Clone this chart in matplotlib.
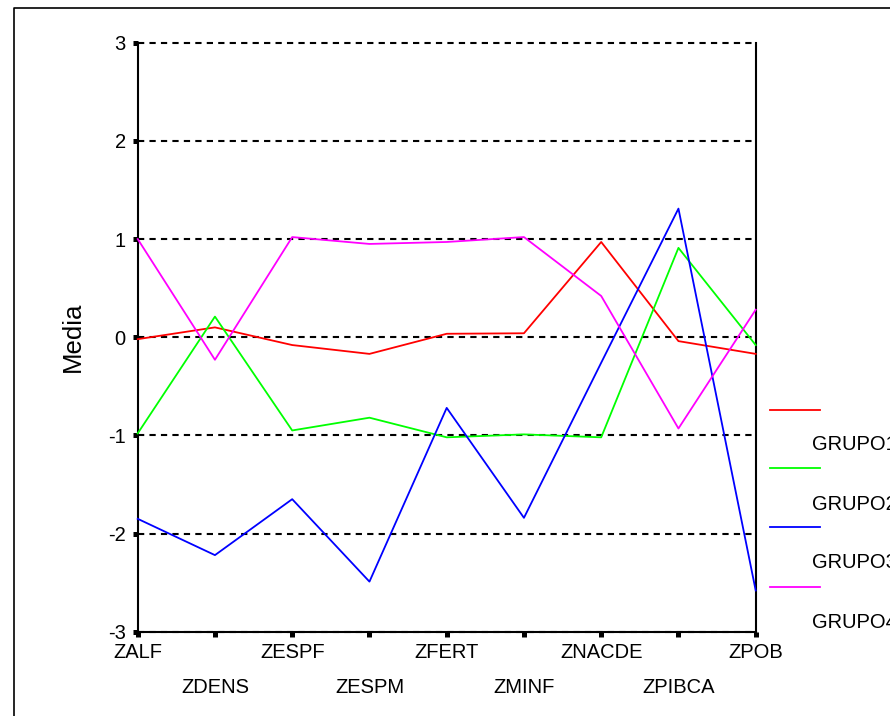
import matplotlib
matplotlib.use("Agg")
import matplotlib.pyplot as plt
from matplotlib.lines import Line2D
import numpy as np

plt.rcParams["font.family"] = ["Liberation Sans", "DejaVu Sans"]

variables = ["ZALF", "ZDENS", "ZESPF", "ZESPM", "ZFERT",
             "ZMINF", "ZNACDE", "ZPIBCA", "ZPOB"]
grupo1 = [-0.02, 0.10, -0.08, -0.17, 0.035, 0.04, 0.97, -0.04, -0.17]
grupo2 = [-0.98, 0.21, -0.95, -0.82, -1.02, -0.99, -1.02, 0.91, -0.08]
grupo3 = [-1.85, -2.22, -1.65, -2.49, -0.72, -1.84, -0.26, 1.31, -2.58]
grupo4 = [1.00, -0.23, 1.02, 0.95, 0.97, 1.02, 0.42, -0.93, 0.28]
series_names = ["GRUPO1", "GRUPO2", "GRUPO3", "GRUPO4"]
colors = ["#ff0000", "#00ff00", "#0000ff", "#ff00ff"]
yticks = [-3, -2, -1, 0, 1, 2, 3]

W, H = 890, 716
fig = plt.figure(figsize=(W / 100, H / 100), dpi=100)
ax = fig.add_axes([137.7 / W, 1 - 631.7 / H, 618 / W, 589 / H])

x = np.arange(len(variables))
lines = []
for vals, c in zip([grupo1, grupo2, grupo3, grupo4], colors):
    ln, = ax.plot(x, vals, color=c, lw=1.3, zorder=3, clip_on=False)
    lines.append(ln)

ax.set_xlim(0, len(variables) - 1)
ax.set_ylim(-3, 3)
ax.set_yticks(yticks)
ax.set_yticklabels([str(v) for v in yticks])

# alternate category labels on two rows
ax.set_xticks(x[::2])
ax.set_xticklabels(variables[::2])
ax.set_xticks(x[1::2], minor=True)
ax.set_xticklabels(variables[1::2], minor=True)

ax.tick_params(axis="both", which="both", direction="out", length=3.6,
               width=3.6, color="black", labelsize=14.5)
ax.tick_params(axis="y", pad=5)
ax.tick_params(axis="x", which="major", pad=4.8)
ax.tick_params(axis="x", which="minor", pad=29.5)

ax.grid(axis="y", color="black", lw=1.5, linestyle=(0, (3, 2.5)), zorder=1)
for gl in ax.get_ygridlines():
    gl.set_clip_on(False)
ax.spines["top"].set_visible(False)
for s in ["left", "bottom", "right"]:
    ax.spines[s].set_linewidth(1.5)

fig.text(73 / W, 1 - 337 / H, "Media", rotation=90, ha="center",
         va="center", fontsize=18.5)

# legend: short line, label below it
line_y = [410, 467.5, 527, 587]
label_y = [445, 505, 563, 622]
for ln, name, ly, ty in zip(lines, series_names, line_y, label_y):
    fig.add_artist(Line2D([770 / W, 820 / W], [1 - ly / H, 1 - ly / H],
                          color=ln.get_color(), lw=1.3,
                          transform=fig.transFigure))
    fig.text(812 / W, 1 - ty / H, name, ha="left", va="center",
             fontsize=14.5)

# outer frame
fig.add_artist(Line2D([13.5 / W, 13.5 / W, 1], [0, 1 - 7.7 / H, 1 - 7.7 / H],
                      color="black", lw=1.2, transform=fig.transFigure))

fig.savefig("out.png", dpi=100)
